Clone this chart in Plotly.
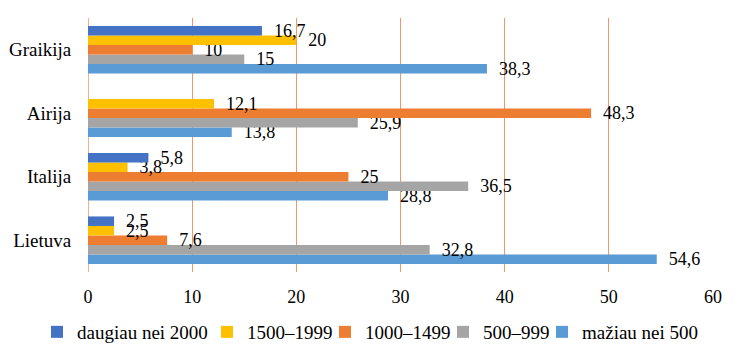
import plotly.graph_objects as go

categories = ["Lietuva", "Italija", "Airija", "Graikija"]
series_names = ["mažiau nei 500", "500–999", "1000–1499", "1500–1999", "daugiau nei 2000"]
maziau_500 = [54.6, 28.8, 13.8, 38.3]
s500_999 = [32.8, 36.5, 25.9, 15]
s1000_1499 = [7.6, 25, 48.3, 10]
s1500_1999 = [2.5, 3.8, 12.1, 20]
daugiau_2000 = [2.5, 5.8, None, 16.7]
x_ticks = [0, 10, 20, 30, 40, 50, 60]

colors = ["#5B9BD5", "#A5A5A5", "#ED7D31", "#FFC000", "#4472C4"]
values = [maziau_500, s500_999, s1000_1499, s1500_1999, daugiau_2000]
# legend symbol centres in pixels
legend_px = [562, 463, 345, 227, 57]

FONT = "'Liberation Serif', 'DejaVu Serif', serif"
L, R, T, B = 88, 40, 18, 81
W, H = 753, 353

def fmt(v):
    if v is None:
        return ""
    return "  " + ("%g" % v).replace(".", ",")

fig = go.Figure()
layout_legends = {}
for i, (name, vals, col) in enumerate(zip(series_names, values, colors)):
    lg = "legend" if i == 0 else "legend%d" % (i + 1)
    fig.add_trace(go.Bar(
        y=categories, x=vals, name=name, orientation="h",
        marker=dict(color=col, line=dict(width=0)),
        text=[fmt(v) for v in vals], textposition="outside",
        textfont=dict(family=FONT, size=18, color="#000"),
        constraintext="none", cliponaxis=False, legend=lg,
    ))
    layout_legends[lg] = dict(
        orientation="h", xref="container", yref="container",
        x=(legend_px[i] - 20) / W, xanchor="left",
        y=1 - 332 / H, yanchor="middle",
        font=dict(family=FONT, size=19, color="#000"), bgcolor="rgba(0,0,0,0)",
    )

fig.update_layout(
    width=W, height=H,
    margin=dict(l=L, r=R, t=T, b=B, autoexpand=False),
    plot_bgcolor="white", paper_bgcolor="white",
    barmode="group", bargap=0.25, bargroupgap=0,
    font=dict(family=FONT, size=18, color="#000"),
    showlegend=True,
    **layout_legends,
)
fig.update_xaxes(range=[0, 60], tickvals=x_ticks, showgrid=True, gridcolor="#F0976A",
                 gridwidth=1, zeroline=True, zerolinecolor="#F4B08E", zerolinewidth=1,
                 ticks="outside", ticklen=8, tickcolor="rgba(0,0,0,0)", showline=False,
                 tickfont=dict(family=FONT, size=18), automargin=False)
fig.update_yaxes(ticks="outside", ticklen=12, tickcolor="rgba(0,0,0,0)", showgrid=False,
                 tickfont=dict(family=FONT, size=19), automargin=False)

fig.write_html("out.html")
